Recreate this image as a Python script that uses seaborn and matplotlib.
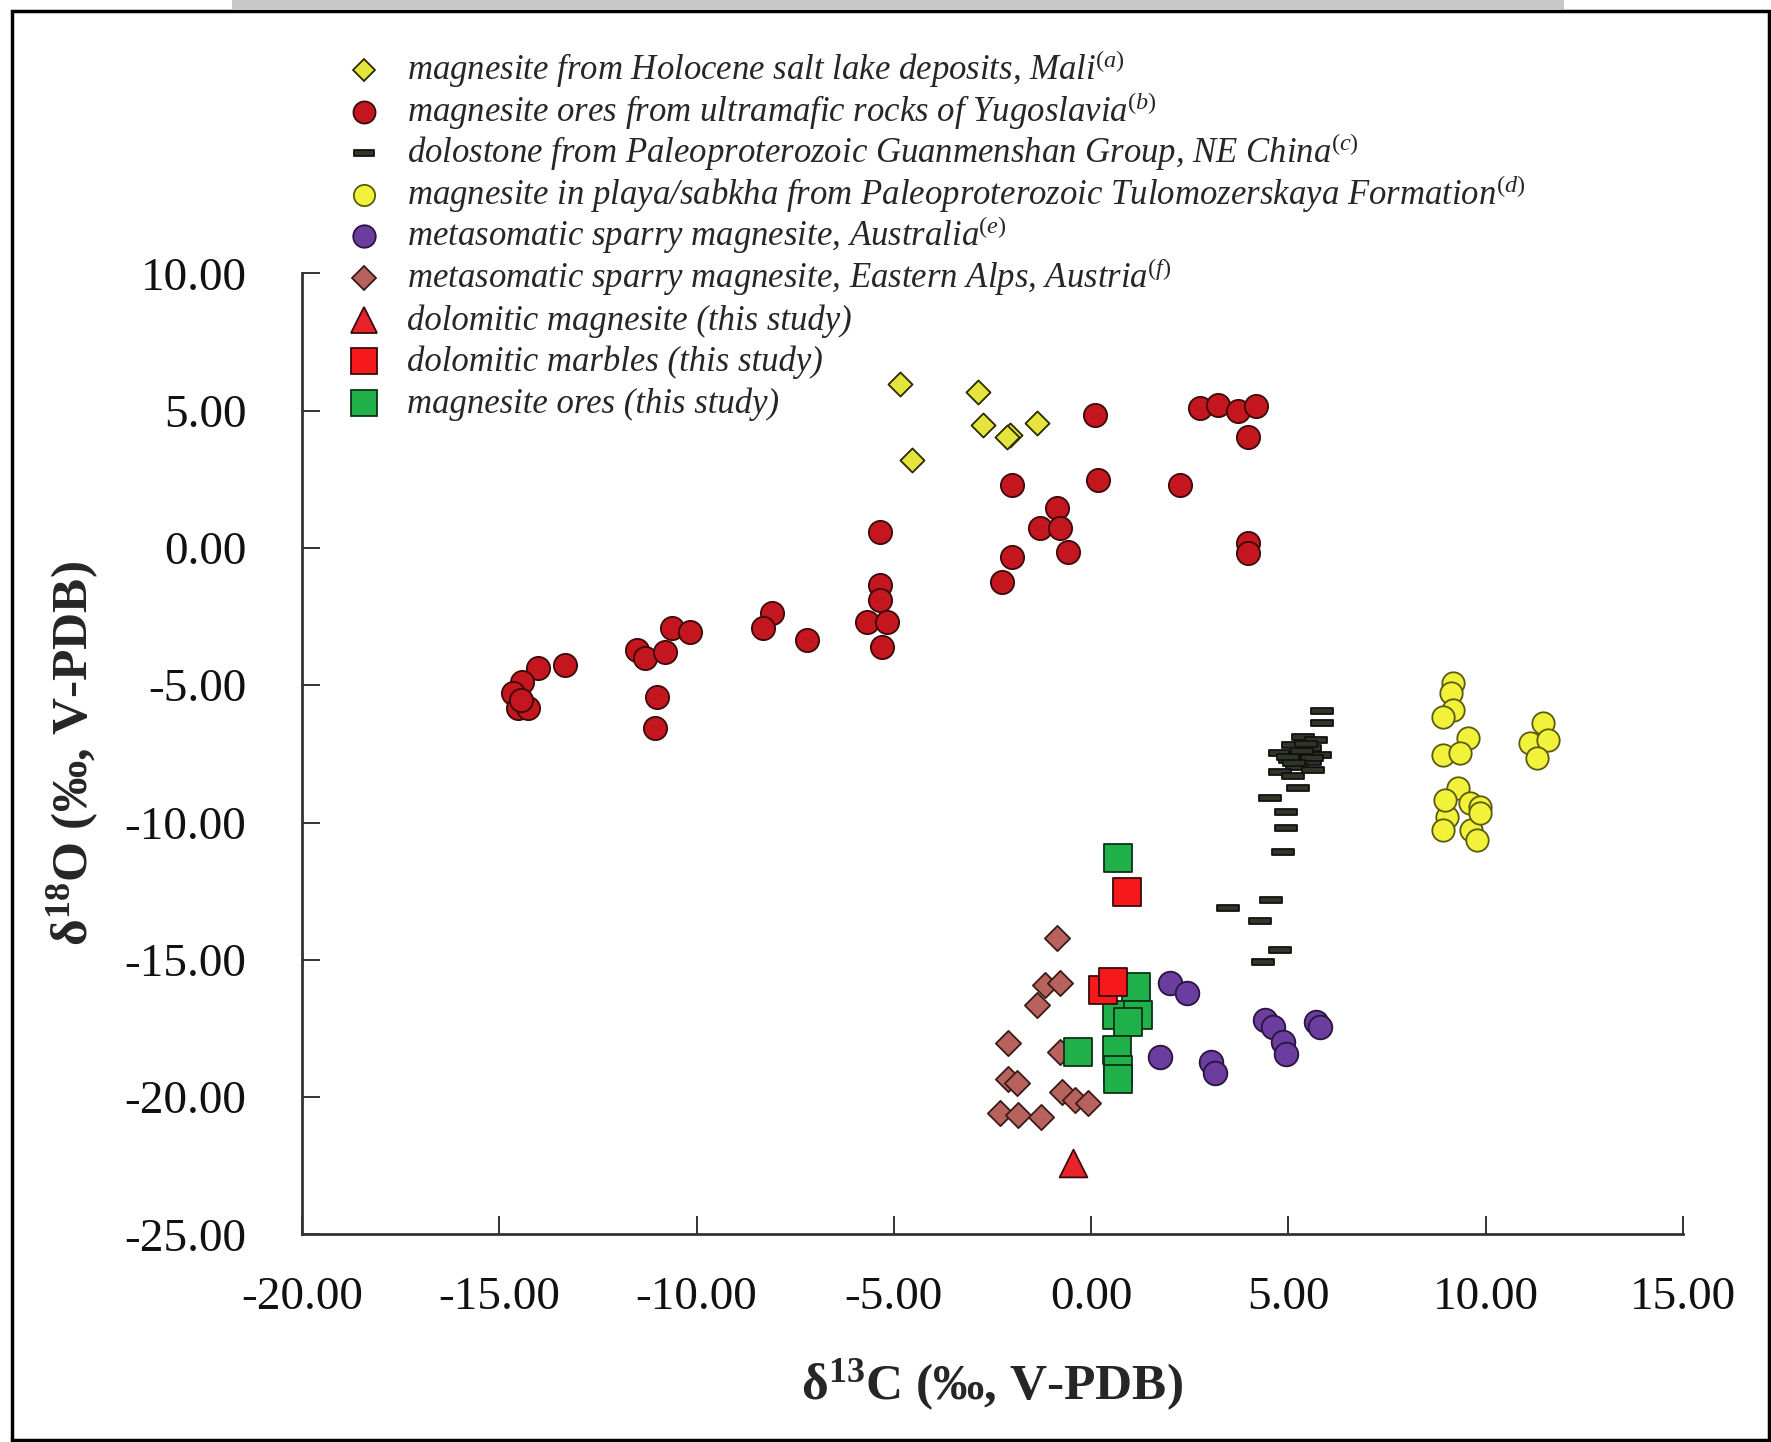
import matplotlib
matplotlib.use("Agg")
import matplotlib.pyplot as plt
import seaborn as sns
from matplotlib.lines import Line2D
from matplotlib.patches import Rectangle
from matplotlib.path import Path
from matplotlib.ticker import FuncFormatter

# --- data (d13C, d18O) ---
mali_x = [-4.85, -2.86, -2.73, -2.06, -2.14, -1.38, -4.55]
mali_y = [5.97, 5.69, 4.48, 4.11, 4.05, 4.54, 3.20]

yugo_x = [0.10, 2.76, 3.22, 3.73, 4.19, 3.98, -2.01, 0.18, 2.25, -0.87, -1.30, -0.79, -0.58,
          -2.01, -2.27, -5.35, 3.98, 3.98, -5.35, -5.35, -5.68, -5.17, -5.30, -8.09, -8.32,
          -7.20, -10.62, -10.17, -11.51, -11.31, -10.80, -11.00, -11.05, -13.34, -14.02,
          -14.42, -14.65, -14.53, -14.27, -14.45]
yugo_y = [4.84, 5.08, 5.20, 5.00, 5.17, 4.05, 2.29, 2.47, 2.29, 1.44, 0.71, 0.71, -0.14,
          -0.32, -1.23, 0.59, 0.17, -0.20, -1.35, -1.90, -2.70, -2.70, -3.61, -2.37, -2.92,
          -3.35, -2.92, -3.06, -3.72, -4.01, -3.79, -5.43, -6.56, -4.26, -4.37,
          -4.88, -5.28, -5.83, -5.83, -5.55]

dolo_x = [5.85, 5.85, 5.38, 5.71, 5.12, 5.54, 4.78, 5.29, 5.80, 5.04, 5.54, 5.21, 4.78,
          5.12, 5.63, 5.45, 5.00, 5.60, 5.35, 5.15, 5.25, 4.53, 4.95, 4.95, 4.87, 4.57,
          3.47, 4.28, 4.78, 4.36]
dolo_y = [-5.94, -6.38, -6.88, -7.00, -7.18, -7.30, -7.46, -7.54, -7.54, -7.72, -7.79, -7.97,
          -8.15, -8.31, -8.09, -7.15, -7.60, -7.65, -7.40, -7.85, -8.75, -9.12, -9.61, -10.19,
          -11.09, -12.82, -13.12, -13.58, -14.64, -15.07]

tulo_x = [9.18, 9.13, 9.18, 8.92, 9.56, 8.92, 9.34, 9.30, 9.60, 9.01, 8.96, 9.85, 8.92,
          9.64, 9.77, 9.85, 11.46, 11.12, 11.58, 11.29]
tulo_y = [-4.93, -5.29, -5.90, -6.15, -6.93, -7.54, -7.48, -8.75, -9.30, -9.79, -9.18, -9.42,
          -10.27, -10.27, -10.64, -9.67, -6.39, -7.12, -7.00, -7.66]

aus_x = [2.00, 2.42, 1.74, 3.05, 3.14, 4.40, 4.61, 4.87, 4.95, 5.71, 5.80]
aus_y = [-15.86, -16.22, -18.53, -18.71, -19.13, -17.19, -17.44, -17.98, -18.41, -17.25, -17.44]

alps_x = [-0.87, -1.17, -0.79, -1.38, -2.10, -0.79, -2.10, -1.89, -0.75, -0.41, -0.07,
          -2.31, -1.85, -1.26]
alps_y = [-14.22, -15.92, -15.83, -16.65, -18.04, -18.35, -19.32, -19.50, -19.80, -20.11,
          -20.23, -20.57, -20.65, -20.71]

tri_x = [-0.45]
tri_y = [-22.41]

marble_x = [0.90, 0.31, 0.56]
marble_y = [-12.52, -16.10, -15.80]

ore_x = [0.69, 1.15, 0.65, 1.20, 0.94, -0.33, 0.65, 0.69, 0.69]
ore_y = [-11.30, -15.98, -17.01, -17.01, -17.25, -18.35, -18.29, -19.01, -19.32]

labels = [
    "magnesite from Holocene salt lake deposits, Mali$^{(a)}$",
    "magnesite ores from ultramafic rocks of Yugoslavia$^{(b)}$",
    "dolostone from Paleoproterozoic Guanmenshan Group, NE China$^{(c)}$",
    "magnesite in playa/sabkha from Paleoproterozoic Tulomozerskaya Formation$^{(d)}$",
    "metasomatic sparry magnesite, Australia$^{(e)}$",
    "metasomatic sparry magnesite, Eastern Alps, Austria$^{(f)}$",
    "dolomitic magnesite (this study)",
    "dolomitic marbles (this study)",
    "magnesite ores (this study)",
]
xticks = [-20, -15, -10, -5, 0, 5, 10, 15]
yticks = [-25, -20, -15, -10, -5, 0, 5, 10]

sns.set_style("ticks")
plt.rcParams['font.family'] = ['Liberation Serif', 'DejaVu Serif']
plt.rcParams['mathtext.fontset'] = 'custom'
plt.rcParams['mathtext.rm'] = 'Liberation Serif'
plt.rcParams['mathtext.it'] = 'Liberation Serif:italic'
plt.rcParams['mathtext.bf'] = 'Liberation Serif:bold'
plt.rcParams['axes.unicode_minus'] = False

dash = Path([(-1, -0.28), (1, -0.28), (1, 0.28), (-1, 0.28), (-1, -0.28)],
            [Path.MOVETO, Path.LINETO, Path.LINETO, Path.LINETO, Path.CLOSEPOLY])

# (x, y, marker, face, edge, size, zorder)
series = [
    (mali_x, mali_y, 'D', '#e4e43c', '#2a2a00', 150, 3),
    (yugo_x, yugo_y, 'o', '#c3161e', '#3a0a0a', 280, 3),
    (dolo_x, dolo_y, dash, '#2f3626', '#111111', 250, 3),
    (tulo_x, tulo_y, 'o', '#f2f23a', '#5a5a10', 260, 3),
    (aus_x, aus_y, 'o', '#6b3d9e', '#2a1440', 290, 3),
    (alps_x, alps_y, 'D', '#b8625e', '#3a1a18', 165, 3),
    (tri_x, tri_y, '^', '#e8242a', '#3a0a0a', 400, 4),
    (marble_x, marble_y, 's', '#f5191c', '#3a0a0a', 400, 6),
    (ore_x, ore_y, 's', '#20b04a', '#0f3018', 400, 5),
]

W, H = 1771, 1442
fig = plt.figure(figsize=(W / 100, H / 100), dpi=100)
ax = fig.add_axes([0.1705, 0.1439, 0.7798, 0.6666])

for xs, ys, mk, fc, ec, s, z in series:
    sns.scatterplot(x=xs, y=ys, ax=ax, marker=mk, color=fc, edgecolor=ec, s=s,
                    linewidth=1.3, zorder=z, legend=False)

ax.set_xlim(-20, 15)
ax.set_ylim(-25, 10)
ax.set_xticks(xticks)
ax.set_yticks(yticks)
fmt = FuncFormatter(lambda v, p: f"{v:.2f}")
ax.xaxis.set_major_formatter(fmt)
ax.yaxis.set_major_formatter(fmt)
ax.tick_params(axis='both', direction='in', length=13, width=1.4, color='#333333',
               labelsize=34, labelcolor='#111111')
ax.tick_params(axis='x', pad=30)
ax.tick_params(axis='y', pad=40)
for side in ['top', 'right']:
    ax.spines[side].set_visible(False)
for side in ['left', 'bottom']:
    ax.spines[side].set_linewidth(2)
    ax.spines[side].set_color('#333333')

ax.set_xlabel("δ$^{\\mathbf{13}}$C (‰, V-PDB)", fontsize=37, fontweight='bold', labelpad=28)
ax.set_ylabel("δ$^{\\mathbf{18}}$O (‰, V-PDB)", fontsize=37, fontweight='bold', labelpad=17)

# legend drawn row by row so every row has the same spacing
row0, row_step = 70, 41.6
for i, ((xs, ys, mk, fc, ec, s, z), lab) in enumerate(zip(series, labels)):
    yc = row0 + i * row_step
    fig.add_artist(Line2D([364 / W], [1 - yc / H], transform=fig.transFigure,
                          linestyle='none', marker=mk, markerfacecolor=fc,
                          markeredgecolor=ec, markeredgewidth=1.3,
                          markersize=s ** 0.5 * 0.95))
    fig.text(407 / W, 1 - (yc + 10) / H, lab, fontsize=25, style='italic',
             family='Liberation Serif', ha='left', va='baseline')

# picture frame and gray strip at the top
fig.patches.append(Rectangle((12 / W, 2 / H), 1757 / W, 1 - 13 / H,
                             transform=fig.transFigure, fill=False, edgecolor='black',
                             linewidth=2.5))
fig.patches.append(Rectangle((232 / W, 1 - 9 / H), 1332 / W, 9 / H,
                             transform=fig.transFigure, facecolor='#c6c7c9', edgecolor='none'))

fig.savefig("out.png", dpi=100, facecolor='white')
